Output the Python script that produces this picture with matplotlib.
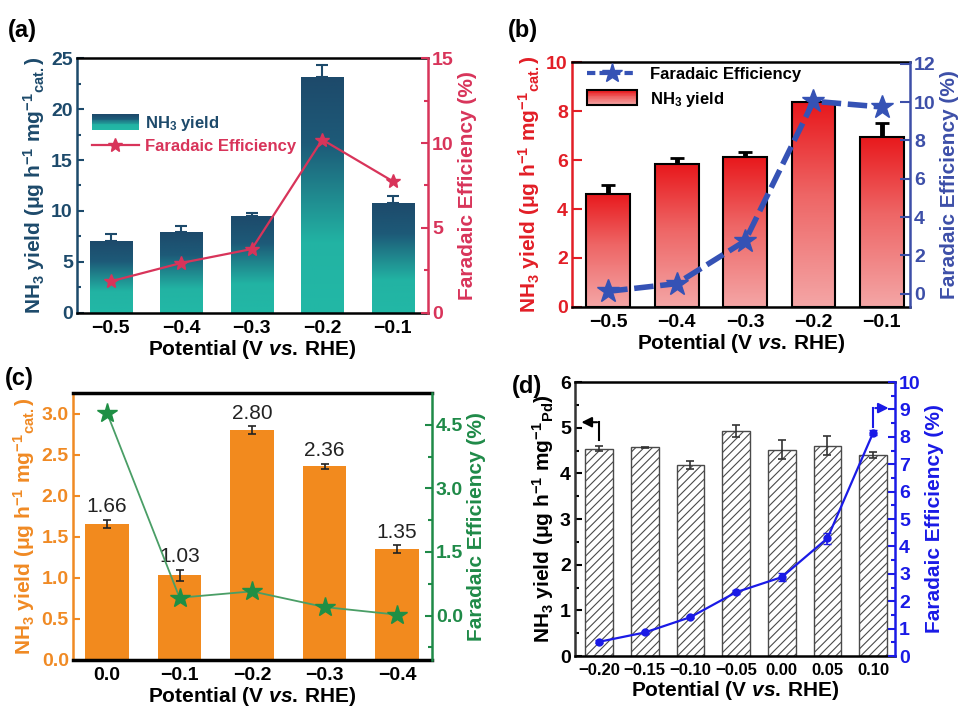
import numpy as np
import matplotlib
matplotlib.use("Agg")
import matplotlib.pyplot as plt
from matplotlib.colors import LinearSegmentedColormap
from matplotlib.patches import Rectangle
from matplotlib.legend_handler import HandlerBase
from matplotlib.ticker import MultipleLocator, FixedLocator, FormatStrFormatter

plt.rcParams['font.family'] = 'Liberation Sans'
plt.rcParams['font.weight'] = 'bold'
plt.rcParams['axes.labelweight'] = 'bold'
plt.rcParams['mathtext.fontset'] = 'custom'
plt.rcParams['mathtext.rm'] = 'Liberation Sans:bold'
plt.rcParams['mathtext.it'] = 'Liberation Sans:italic:bold'
plt.rcParams['mathtext.bf'] = 'Liberation Sans:bold'
plt.rcParams['hatch.linewidth'] = 0.8

# ---- data ----
# (a)
pot_a = ['\u22120.5', '\u22120.4', '\u22120.3', '\u22120.2', '\u22120.1']
yield_a = [7.05, 7.9, 9.5, 23.1, 10.75]
yerr_a = [0.65, 0.65, 0.35, 1.2, 0.7]
fe_a = [1.86, 2.94, 3.76, 10.2, 7.75]

# (b)
pot_b = ['\u22120.5', '\u22120.4', '\u22120.3', '\u22120.2', '\u22120.1']
yield_b = [4.62, 5.82, 6.12, 8.35, 6.95]
yerr_b = [0.38, 0.25, 0.2, 0.0, 0.55]
fe_b = [0.12, 0.52, 2.75, 10.05, 9.75]

# (c)
pot_c = ['0.0', '\u22120.1', '\u22120.2', '\u22120.3', '\u22120.4']
yield_c = [1.66, 1.03, 2.80, 2.36, 1.35]
yerr_c = [0.05, 0.07, 0.05, 0.03, 0.05]
fe_c = [4.78, 0.42, 0.57, 0.20, 0.02]

# (d)
pot_d = ['\u22120.20', '\u22120.15', '\u22120.10', '\u22120.05', '0.00', '0.05', '0.10']
yield_d = [4.54, 4.57, 4.18, 4.92, 4.52, 4.61, 4.40]
yerr_d = [0.05, 0.01, 0.08, 0.13, 0.2, 0.2, 0.07]
fe_d = [0.52, 0.86, 1.42, 2.33, 2.88, 4.3, 8.15]
fe_err_d = [0.05, 0.05, 0.05, 0.08, 0.15, 0.2, 0.1]

xlab = r'Potential (V $\it{vs.}\,$RHE)'
ylab_cat = r'NH$_3$ yield (μg h$^{-1}$ mg$^{-1}$$_{\mathrm{cat.}}$)'
ylab_pd = r'NH$_3$ yield (μg h$^{-1}$ mg$^{-1}$$_{\mathrm{Pd}}$)'
felab = 'Faradaic Efficiency (%)'

LAB = 15      # axis label size
TICK = 14     # tick label size

cmap_a = LinearSegmentedColormap.from_list('a', [(0, '#22b8a6'), (0.3, '#22b3a3'), (0.72, '#1d5a78'), (1, '#1d4a6b')])
cmap_b = LinearSegmentedColormap.from_list('b', [(0, '#f4a6a6'), (0.55, '#ee6565'), (1, '#e8181c')])


def gradient_bars(ax, x, h, width, cmap, edgecolor='none', lw=0):
    bars = ax.bar(x, h, width, color='none', edgecolor=edgecolor, linewidth=lw, zorder=3)
    grad = np.linspace(0, 1, 256).reshape(-1, 1)
    for b in bars:
        x0, y0 = b.get_xy()
        im = ax.imshow(grad, extent=[x0, x0 + b.get_width(), y0, y0 + b.get_height()],
                       origin='lower', cmap=cmap, aspect='auto', zorder=2.5, interpolation='bilinear')
        im.set_clip_path(b)
    return bars


class HandlerGradient(HandlerBase):
    def __init__(self, cmap, edgecolor='none', n=20):
        super().__init__()
        self.cmap = cmap
        self.edgecolor = edgecolor
        self.n = n

    def create_artists(self, legend, orig_handle, xdescent, ydescent, width, height, fontsize, trans):
        arts = []
        h = height * 1.3
        y0 = -ydescent - (h - height) / 2
        for i in range(self.n):
            c = self.cmap(i / (self.n - 1))
            arts.append(Rectangle((-xdescent, y0 + h * i / self.n), width, h / self.n + 0.3,
                                  facecolor=c, edgecolor='none', transform=trans))
        if self.edgecolor != 'none':
            arts.append(Rectangle((-xdescent, y0), width, h, facecolor='none',
                                  edgecolor=self.edgecolor, lw=1.5, transform=trans))
        return arts


def style_twin(ax, ax2, lc, rc, tick=TICK, xtick=TICK):
    for s in ['top', 'bottom']:
        ax.spines[s].set_linewidth(1.8)
        ax.spines[s].set_color('black')
    ax.spines['left'].set_color(lc)
    ax.spines['left'].set_linewidth(1.8)
    ax.spines['right'].set_visible(False)
    ax2.spines['right'].set_color(rc)
    ax2.spines['right'].set_linewidth(1.8)
    for s in ['left', 'top', 'bottom']:
        ax2.spines[s].set_visible(False)
    ax.tick_params(axis='y', which='both', direction='in', colors=lc, labelsize=tick, width=1.5, pad=3)
    ax.tick_params(axis='y', which='major', length=5)
    ax.tick_params(axis='y', which='minor', length=3)
    ax.tick_params(axis='x', direction='in', length=4, width=1.5, labelsize=xtick, colors='black', pad=5)
    ax2.tick_params(axis='y', which='both', direction='in', colors=rc, labelsize=tick, width=1.5, pad=3)
    ax2.tick_params(axis='y', which='major', length=5)
    ax2.tick_params(axis='y', which='minor', length=3)
    ax.set_xlabel(xlab, fontsize=LAB, labelpad=1)


fig = plt.figure(figsize=(9.67, 7.08), dpi=100)

# ---------- (a) ----------
ax = fig.add_axes([0.0796, 0.558, 0.363, 0.360])
ax2 = ax.twinx()
xa = np.arange(len(pot_a))
ca, ra = '#1d4a6b', '#d8345a'
ax.errorbar(xa, yield_a, yerr=[np.zeros(len(xa)), yerr_a], fmt='none', ecolor=ca, elinewidth=1.5,
            capsize=4, capthick=1.5, zorder=1)
gradient_bars(ax, xa, yield_a, 0.6, cmap_a)
ax.set_xlim(-0.48, 4.5)
ax.set_ylim(0, 25)
ax.yaxis.set_major_locator(MultipleLocator(5))
ax.yaxis.set_minor_locator(MultipleLocator(2.5))
ax.set_xticks(xa)
ax.set_xticklabels(pot_a)
ax2.plot(xa, fe_a, color=ra, lw=1.6, marker='*', ms=10, zorder=5)
ax2.set_ylim(0, 15)
ax2.yaxis.set_major_locator(MultipleLocator(5))
ax2.yaxis.set_minor_locator(MultipleLocator(2.5))
style_twin(ax, ax2, ca, ra)
ax.set_ylabel(ylab_cat, color=ca, fontsize=LAB, labelpad=3)
ax2.set_ylabel(felab, color=ra, fontsize=LAB, labelpad=3)
ph_a = Rectangle((0, 0), 1, 1)
ln_a, = ax.plot([], [], color=ra, lw=1.6, marker='*', ms=10)
leg = ax.legend([ph_a, ln_a], [r'NH$_3$ yield', 'Faradaic Efficiency'], loc='upper left',
                bbox_to_anchor=(0.0, 0.84), frameon=False, fontsize=12, handlelength=2.8,
                handletextpad=0.4, labelspacing=0.35, handler_map={ph_a: HandlerGradient(cmap_a)})
leg.get_texts()[0].set_color(ca)
leg.get_texts()[1].set_color(ra)

# ---------- (b) ----------
bx = fig.add_axes([0.5915, 0.5664, 0.3495, 0.346])
bx2 = bx.twinx()
xb = np.arange(len(pot_b))
cb, rb = '#e21e26', '#3d4fa8'
bx.errorbar(xb, yield_b, yerr=[np.zeros(len(xb)), yerr_b], fmt='none', ecolor='black', elinewidth=3.5,
            capsize=5, capthick=2, zorder=1)
gradient_bars(bx, xb, yield_b, 0.64, cmap_b, edgecolor='black', lw=1.5)
bx.set_xlim(-0.53, 4.41)
bx.set_ylim(0, 10)
bx.yaxis.set_major_locator(MultipleLocator(2))
bx.set_xticks(xb)
bx.set_xticklabels(pot_b)
bx2.plot(xb, fe_b, color='#3552b5', lw=4, ls=(0, (3.5, 1.2)), marker='*', ms=17, zorder=5,
         markerfacecolor='#3552b5', markeredgecolor='#3552b5')
bx2.set_ylim(-0.7, 12.1)
bx2.yaxis.set_major_locator(FixedLocator([0, 2, 4, 6, 8, 10, 12]))
style_twin(bx, bx2, cb, rb)
bx.tick_params(axis='y', length=7)
bx2.tick_params(axis='y', length=7)
bx.set_ylabel(ylab_cat, color=cb, fontsize=LAB, labelpad=3)
bx2.set_ylabel(felab, color=rb, fontsize=LAB, labelpad=3)
ph_b = Rectangle((0, 0), 1, 1)
ln_b, = bx.plot([], [], color='#3552b5', lw=3, ls=(0, (2, 1)), marker='*', ms=15)
bx.legend([ln_b, ph_b], ['Faradaic Efficiency', r'NH$_3$ yield'], loc='upper left',
          bbox_to_anchor=(0.0, 1.04), frameon=False, fontsize=12, handlelength=3.0,
          handletextpad=0.8, labelspacing=0.45, handler_map={ph_b: HandlerGradient(cmap_b, 'black')})

# ---------- (c) ----------
cx = fig.add_axes([0.0755, 0.0678, 0.371, 0.377])
cx2 = cx.twinx()
xc = np.arange(len(pot_c))
cc, rc = '#f08a24', '#1f8a48'
cx.bar(xc, yield_c, 0.6, color='#f28a1e', zorder=2)
cx.errorbar(xc, yield_c, yerr=yerr_c, fmt='none', ecolor='#222222', elinewidth=1.2, capsize=3,
            capthick=1.2, zorder=3)
for xi, yi, ei in zip(xc, yield_c, yerr_c):
    cx.text(xi, yi + ei + 0.04, '%.2f' % yi, ha='center', va='bottom', fontsize=15,
            fontweight='normal', color='#222222')
cx.set_xlim(-0.47, 4.48)
cx.set_ylim(0, 3.25)
cx.yaxis.set_major_locator(MultipleLocator(0.5))
cx.yaxis.set_major_formatter(FormatStrFormatter('%.1f'))
cx.set_xticks(xc)
cx.set_xticklabels(pot_c)
cx2.plot(xc, fe_c, color='#4a9e66', lw=1.3, marker='*', ms=15, markerfacecolor='#1f8f45',
         markeredgecolor='#1f8f45', zorder=5)
cx2.set_ylim(-1.05, 5.25)
cx2.yaxis.set_major_locator(FixedLocator([0, 1.5, 3.0, 4.5]))
cx2.yaxis.set_minor_locator(FixedLocator([-0.75, 0.75, 2.25, 3.75]))
cx2.yaxis.set_major_formatter(FormatStrFormatter('%.1f'))
style_twin(cx, cx2, cc, rc)
for s in ['top', 'bottom']:
    cx.spines[s].set_linewidth(2.5)
cx.set_ylabel(ylab_cat, color=cc, fontsize=LAB, labelpad=3)
cx2.set_ylabel(felab, color=rc, fontsize=LAB, labelpad=3)

# ---------- (d) ----------
dx = fig.add_axes([0.5946, 0.0734, 0.331, 0.387])
dx2 = dx.twinx()
xd = np.arange(len(pot_d))
cd, rd = 'black', '#1a1ae6'
dx.bar(xd, yield_d, 0.6, color='white', edgecolor='#4a4a4a', hatch='////', lw=1.0, zorder=2)
dx.errorbar(xd, yield_d, yerr=yerr_d, fmt='none', ecolor='#333333', elinewidth=1.2, capsize=3,
            capthick=1.2, zorder=3)
dx.set_xlim(-0.53, 6.48)
dx.set_ylim(0, 6)
dx.yaxis.set_major_locator(MultipleLocator(1))
dx.yaxis.set_minor_locator(MultipleLocator(0.5))
dx.set_xticks(xd)
dx.set_xticklabels(pot_d)
dx2.errorbar(xd, fe_d, yerr=fe_err_d, color=rd, lw=1.6, marker='o', ms=5, capsize=3,
             elinewidth=1.2, zorder=5)
dx2.set_ylim(0, 10)
dx2.yaxis.set_major_locator(MultipleLocator(1))
dx2.yaxis.set_minor_locator(MultipleLocator(0.5))
style_twin(dx, dx2, cd, rd, tick=TICK, xtick=12)
dx.spines['left'].set_color('#333333')
dx.set_ylabel(ylab_pd, color='black', fontsize=LAB, labelpad=3)
dx2.set_ylabel(felab, color=rd, fontsize=LAB, labelpad=3)
# direction arrows
y_l = yield_d[0] + yerr_d[0] + 0.15
dx.plot([xd[0], xd[0]], [y_l, 5.12], color='black', lw=1.5, zorder=4)
dx.annotate('', xy=(xd[0] - 0.45, 5.12), xytext=(xd[0] + 0.015, 5.12),
            arrowprops=dict(arrowstyle='-|>', color='black', lw=1.5, mutation_scale=15))
y_r = fe_d[-1] + fe_err_d[-1] + 0.1
dx2.plot([xd[-1], xd[-1]], [y_r, 9.05], color=rd, lw=1.5, zorder=4)
dx2.annotate('', xy=(xd[-1] + 0.4, 9.05), xytext=(xd[-1] - 0.015, 9.05),
             arrowprops=dict(arrowstyle='-|>', color=rd, lw=1.5, mutation_scale=15))

# panel letters
for txt, px, py in [('(a)', 8, 30), ('(b)', 508, 30), ('(c)', 5, 378), ('(d)', 512, 386)]:
    fig.text(px / 967, 1 - py / 708, txt, fontsize=17, fontweight='bold', va='center', ha='left')

fig.savefig('out.png', dpi=100)
